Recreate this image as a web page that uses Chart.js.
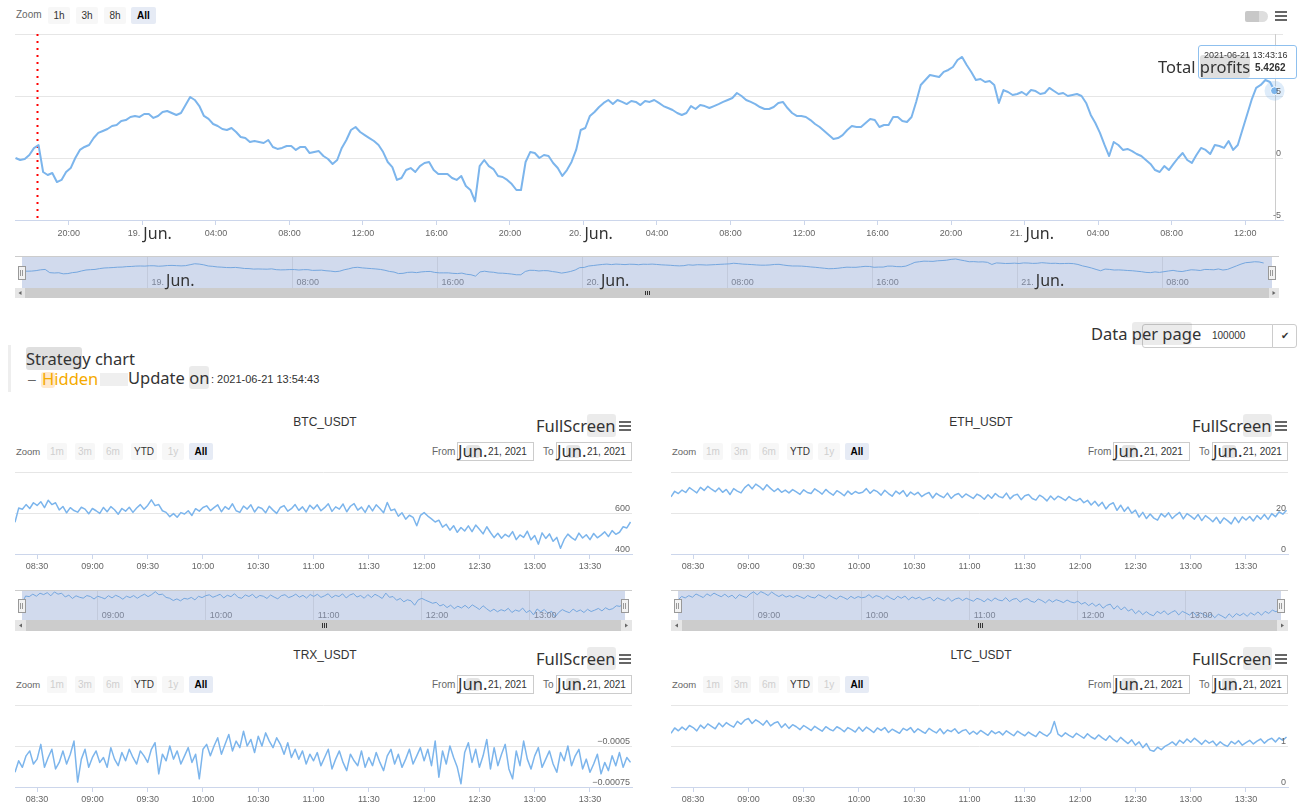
<!DOCTYPE html>
<html><head><meta charset="utf-8">
<script src="https://cdn.jsdelivr.net/npm/chart.js@4.4.1/dist/chart.umd.min.js"></script>
<style>
html,body{margin:0;padding:0;background:#fff}
body{width:1300px;height:806px;position:relative;overflow:hidden;font-family:"Liberation Sans",Arial,sans-serif;color:#333}
.a{position:absolute;white-space:nowrap}
canvas{position:absolute;display:block}
.btn{position:absolute;height:17px;line-height:17px;font-size:10px;text-align:center;background:#f7f7f7;color:#333;border-radius:2px}
.dis{color:#cfcfcf}
.sel{background:#e6ebf5;font-weight:bold;color:#000}
.big{font-family:"Noto Sans",sans-serif;color:#333;font-size:16.5px;line-height:20px}
.hl{background:rgba(110,110,110,0.22);border-radius:3px}
.hl2{background:rgba(110,110,110,0.14);border-radius:3px}
.lbl{font-size:10px;color:#666}
.box{position:absolute;border:1px solid #ccc;background:#fff;box-sizing:border-box}
.burg{position:absolute;width:12px;height:2px;background:#666}
</style></head><body>
<canvas id="cMain" width="1300" height="220" style="left:0;top:30px;width:1300px;height:220px"></canvas>
<canvas id="cNav" width="1300" height="52" style="left:0;top:250px;width:1300px;height:52px"></canvas>
<canvas id="c0" width="640" height="108" style="left:0;top:466px;width:640px;height:108px"></canvas>
<canvas id="c1" width="640" height="108" style="left:656px;top:466px;width:640px;height:108px"></canvas>
<canvas id="c2" width="640" height="108" style="left:0;top:699px;width:640px;height:108px"></canvas>
<canvas id="c3" width="640" height="108" style="left:656px;top:699px;width:640px;height:108px"></canvas>
<canvas id="n0" width="640" height="48" style="left:0;top:586px;width:640px;height:48px"></canvas>
<canvas id="n1" width="640" height="48" style="left:656px;top:586px;width:640px;height:48px"></canvas>

<!-- top toolbar -->
<div class="a lbl" style="left:16px;top:9px">Zoom</div>
<div class="btn" style="left:48px;top:7px;width:22px">1h</div>
<div class="btn" style="left:76px;top:7px;width:22px">3h</div>
<div class="btn" style="left:104px;top:7px;width:22px">8h</div>
<div class="btn sel" style="left:131px;top:7px;width:25px">All</div>
<div class="a" style="left:1245px;top:11px;width:15px;height:11px;background:#c8c8c8;border-radius:2px 0 0 2px"></div>
<div class="a" style="left:1259px;top:11px;width:9px;height:11px;background:#dedede;border-radius:0 6px 6px 0"></div>
<div class="burg" style="left:1275px;top:11px"></div>
<div class="burg" style="left:1275px;top:15px"></div>
<div class="burg" style="left:1275px;top:19px"></div>

<!-- tooltip -->
<div class="a" style="left:1198px;top:45px;width:97px;height:32px;background:rgba(255,255,255,0.9);border:1px solid #8fc0ee;border-radius:3px"></div>
<div class="a" style="left:1204px;top:50px;font-size:9px;color:#333">2021-06-21 13:43:16</div>
<div class="a" style="left:1255px;top:62px;font-size:10px;font-weight:bold;color:#333">5.4262</div>
<div class="a big" style="left:1158px;top:57px">Total <span class="hl">profits</span></div>

<!-- middle -->
<div class="box" style="left:1142px;top:324px;width:131px;height:24px;border-radius:3px 0 0 3px"></div>
<div class="a" style="left:1212px;top:330px;font-size:10px;color:#333">100000</div>
<div class="box" style="left:1272px;top:324px;width:25px;height:24px;border-radius:0 3px 3px 0;font-size:10px;text-align:center;line-height:22px">✔</div>
<div class="a big" style="left:1091px;top:324px">Data <span class="hl2">per pag</span>e</div>
<div class="a" style="left:8px;top:345px;width:3px;height:47px;background:#eee"></div>
<div class="a big" style="left:26px;top:349px"><span class="hl">Strateg</span>y chart</div>
<div class="a" style="left:28px;top:371px;font-size:14px;color:#666">–</div>
<div class="a" style="left:41px;top:372px;width:14px;height:16px;background:rgba(255,190,110,0.35);border-radius:3px"></div>
<div class="a big" style="left:42px;top:369px;color:#f5aa00">Hidden</div>
<div class="a" style="left:100px;top:373px;width:28px;height:13px;background:#efefef"></div>
<div class="a big" style="left:128px;top:368px">Update <span class="hl2">on</span></div>
<div class="a" style="left:211px;top:373px;font-size:11px;color:#333">: 2021-06-21 13:54:43</div>

<script>
// ---------------- DATA ----------------
const SERIES_COLOR = '#7cb5ec';
// Total profits, one reading every 15 minutes starting 2021-06-18 17:06
const PROFIT_START_H = 17.1;   // hours since 2021-06-18 00:00
const PROFIT_STEP_H = 0.25;
const profitValues = [
 0.00,-0.16,-0.08,0.24,0.80,1.05,-1.13,-1.37,-1.21,-1.94,-1.77,-1.13,-0.81,0.00,0.65,0.89,1.05,1.61,2.02,2.18,
 2.34,2.58,2.66,2.98,3.06,3.31,3.39,3.31,3.55,3.55,3.23,3.39,3.71,3.79,3.63,3.47,3.63,4.27,4.92,4.68,
 4.19,3.39,3.15,2.74,2.58,2.34,2.26,2.42,2.10,1.69,1.61,1.29,1.37,1.29,1.21,1.45,0.89,0.73,0.81,0.97,
 0.97,0.65,0.89,0.89,0.40,0.48,0.56,0.16,-0.08,-0.48,-0.16,0.81,1.45,2.26,2.50,2.10,1.85,1.61,1.37,1.05,
 0.48,-0.32,-0.73,-1.77,-1.61,-0.97,-0.81,-1.13,-0.65,-0.40,-0.32,-0.97,-1.29,-1.29,-1.29,-1.61,-1.77,-1.45,-2.26,-2.58,
 -3.50,-0.65,-0.16,-0.65,-0.89,-1.45,-1.53,-1.77,-2.10,-2.58,-2.58,-0.32,0.48,0.40,0.00,0.24,0.16,-0.40,-0.81,-1.45,
 -0.97,-0.32,0.65,2.26,2.42,3.39,3.71,4.11,4.44,4.68,4.35,4.68,4.52,4.35,4.60,4.52,4.27,4.60,4.52,4.68,
 4.44,4.19,4.03,3.87,3.63,3.47,3.63,4.19,3.95,4.27,4.19,4.03,4.19,4.35,4.52,4.68,4.84,5.24,5.00,4.68,
 4.52,4.35,4.11,3.95,3.95,4.11,4.44,4.52,4.03,3.63,3.39,3.39,3.31,3.06,2.74,2.50,2.18,1.85,1.53,1.61,
 1.85,2.26,2.58,2.50,2.50,2.82,3.15,3.06,2.50,2.66,2.66,3.31,3.31,2.98,2.90,3.31,4.52,5.89,6.29,6.69,
 6.61,6.53,6.94,7.10,7.34,7.90,8.15,7.50,6.94,6.29,6.37,6.13,6.21,5.89,4.44,5.48,5.32,5.08,5.16,5.32,
 5.08,5.48,5.40,5.16,5.24,5.65,5.40,5.16,5.24,5.00,5.08,5.16,5.00,4.44,3.47,2.82,2.02,1.05,0.16,1.29,
 1.05,0.65,0.73,0.56,0.32,0.16,-0.16,-0.48,-0.97,-1.13,-0.65,-0.97,-0.48,0.00,0.40,-0.16,-0.40,0.24,0.81,0.65,
 0.32,1.05,0.97,0.81,1.37,0.65,1.05,2.26,3.47,4.68,5.65,5.89,6.29,6.13,5.4262
];
const mainXMin = 17.07, mainXMax = 86.06;
const mainXTicks = [20,24,28,32,36,40,44,48,52,56,60,64,68,72,76,80,84];
const mainXLabels = ["20:00","19. Jun.","04:00","08:00","12:00","16:00","20:00","20. Jun.","04:00","08:00","12:00","16:00","20:00","21. Jun.","04:00","08:00","12:00"];
const mainYTicks = [-5,0,5,10];
const mainYLabels = ["-5","0","5",""];
const startMarkerHour = 18.27;
const navXTicks = [24,32,40,48,56,64,72,80];
const navXLabels = ["19. Jun.","08:00","16:00","20. Jun.","08:00","16:00","21. Jun.","08:00"];

// Pair charts, one reading every 2 minutes starting 08:18 (minutes after 08:00)
const PAIR_START_MIN = 18, PAIR_STEP_MIN = 2;
const pairNames = ["BTC_USDT","ETH_USDT","TRX_USDT","LTC_USDT"];
const btcValues = [
 555,624,618,641,
 622,650,637,655,626,
 662,641,650,615,632,
 601,626,612,604,628,619,596,622,
 611,598,627,606,631,616,594,622,609,628,
 603,624,641,618,637,664,
 636,641,611,603,582,597,
 579,602,595,611,588,621,609,627,
 635,612,626,640,606,631,618,645,611,603,634,619,640,605,629,
 622,601,633,614,598,627,636,609,621,641,613,630,605,638,620,
 640,611,626,645,608,630,619,644,606,633,646,614,629,603,637,
 610,640,622,601,651,612,619,
 584,601,570,589,579,538,588,
 602,585,571,556,565,531,
 545,516,538,506,529,512,537,
 509,541,521,498,533,505,480,
 501,477,496,484,509,470,493,481,511,469,
 490,448,503,476,498,462,481,428,
 471,497,480,468,502,478,494,470,
 500,479,492,508,485,514,496,
 506,533,527,556
];
const ethValues = [
 27.9,30.6,29.5,31.2,
 30.0,32.4,31.1,29.8,32.5,
 31.0,33.0,31.6,30.4,32.2,
 30.1,31.5,29.0,31.9,30.7,29.8,32.4,33.9,
 31.8,34.1,32.9,31.3,33.8,32.0,30.5,31.9,30.1,31.2,
 29.8,31.4,30.3,29.1,31.3,30.0,
 29.5,31.8,30.6,29.2,31.5,29.9,
 28.7,30.9,29.8,28.4,30.7,29.1,30.5,29.6,
 30.1,31.9,29.6,31.2,30.4,28.7,31.1,29.5,28.2,30.7,29.3,30.9,28.1,30.2,28.9,
 30.1,28.0,29.2,30.0,27.3,29.6,28.4,27.5,29.7,27.1,28.8,29.5,27.6,29.3,28.2,
 27.1,29.2,28.3,26.7,28.9,27.2,29.5,28.0,27.4,29.7,26.9,28.6,29.1,26.5,28.4,
 29.0,27.1,26.3,28.7,27.6,25.9,28.3,
 26.5,28.2,27.3,26.1,28.0,26.6,25.9,
 27.1,25.0,26.2,23.9,25.7,23.4,
 25.2,22.0,24.1,25.0,21.3,23.8,20.8,
 22.9,19.9,21.4,18.0,20.3,17.3,19.5,
 17.5,16.5,19.7,18.1,20.1,17.3,19.0,20.3,17.1,19.7,
 18.5,17.0,19.3,16.3,18.7,17.4,15.7,17.9,
 15.0,17.6,16.3,14.7,17.9,15.3,18.1,16.6,
 18.3,16.1,18.7,17.0,19.3,16.9,19.7,
 18.2,20.6,19.4,21.3
];
const trxValues = [
 -0.00066,-0.00059,-0.00063,-0.00056,
 -0.00053,-0.00061,-0.00058,-0.00049,-0.00063,
 -0.00057,-0.00052,-0.00064,-0.0006,-0.00053,
 -0.00061,-0.00055,-0.00047,-0.00072,-0.00058,-0.00052,-0.00063,-0.00057,
 -0.00053,-0.0006,-0.00057,-0.00063,-0.00051,-0.00058,-0.00062,-0.00054,-0.00059,-0.00052,
 -0.00057,-0.00061,-0.00053,-0.00056,-0.0006,-0.00052,
 -0.00048,-0.00067,-0.00055,-0.00059,-0.0005,-0.00058,
 -0.00053,-0.00061,-0.00056,-0.00051,-0.0006,-0.00055,-0.0007,-0.00052,
 -0.00049,-0.00056,-0.0005,-0.00045,-0.00055,-0.00049,-0.00043,-0.00053,-0.00047,-0.00051,-0.00041,-0.0005,-0.00046,-0.00054,-0.00044,
 -0.0005,-0.00042,-0.00047,-0.00051,-0.00045,-0.00049,-0.00055,-0.00048,-0.00057,-0.00052,-0.00058,-0.00053,-0.00061,-0.00055,-0.00059,
 -0.00054,-0.00062,-0.00057,-0.00052,-0.00064,-0.00058,-0.00053,-0.0006,-0.00065,-0.00055,-0.00059,-0.00062,-0.00053,-0.00063,-0.00057,
 -0.00062,-0.00054,-0.0006,-0.00065,-0.00056,-0.00052,-0.00061,
 -0.00055,-0.00063,-0.00058,-0.00052,-0.00061,-0.00056,-0.00051,
 -0.00059,-0.00052,-0.00062,-0.00047,-0.00069,-0.00053,
 -0.00061,-0.0005,-0.00057,-0.00063,-0.00073,-0.00054,-0.00048,
 -0.0006,-0.00052,-0.00063,-0.00056,-0.00046,-0.00064,-0.00051,
 -0.00062,-0.00055,-0.00049,-0.00064,-0.0007,-0.00053,-0.00062,-0.00047,-0.00058,-0.00064,
 -0.00056,-0.00051,-0.00063,-0.00058,-0.00053,-0.00061,-0.00066,-0.00054,
 -0.00059,-0.0005,-0.00062,-0.00056,-0.00052,-0.00064,-0.00058,-0.00066,
 -0.00061,-0.00055,-0.00067,-0.0006,-0.00065,-0.00056,-0.00062,
 -0.00054,-0.00063,-0.00057,-0.0006
];
const ltcValues = [
 1.31,1.44,1.37,1.46,
 1.39,1.50,1.45,1.37,1.51,
 1.43,1.54,1.48,1.42,1.56,
 1.47,1.57,1.51,1.46,1.60,1.53,1.63,1.67,
 1.55,1.64,1.58,1.51,1.62,1.49,1.56,1.59,1.45,1.54,
 1.43,1.52,1.47,1.40,1.50,1.44,
 1.38,1.48,1.42,1.36,1.47,1.41,
 1.37,1.47,1.42,1.35,1.45,1.40,1.34,1.46,
 1.36,1.46,1.40,1.33,1.44,1.38,1.45,1.33,1.41,1.36,1.31,1.43,1.38,1.45,1.33,
 1.42,1.36,1.31,1.43,1.37,1.32,1.42,1.30,1.39,1.35,1.42,1.31,1.37,1.40,1.29,
 1.36,1.29,1.38,1.32,1.26,1.37,1.30,1.35,1.27,1.37,1.31,1.25,1.36,1.30,1.25,
 1.34,1.28,1.23,1.35,1.29,1.24,1.33,
 1.60,1.29,1.23,1.32,1.26,1.21,1.31,
 1.25,1.19,1.30,1.22,1.17,1.27,
 1.20,1.14,1.25,1.16,1.10,1.21,1.13,
 1.06,1.15,1.02,1.10,0.96,1.06,0.90,
 0.87,0.97,0.91,0.99,1.04,1.10,1.02,1.14,1.07,1.17,
 1.09,1.19,1.12,1.04,1.14,1.07,1.12,1.01,
 1.10,1.03,0.99,1.11,1.05,1.13,1.02,1.08,
 1.14,1.05,1.12,1.17,1.07,1.15,1.19,
 1.10,1.20,1.14,1.22
];
const pairXMin = 18, pairXMax = 352.8;
const pairXTicks = [30,60,90,120,150,180,210,240,270,300,330];
const pairXLabels = ["08:30","09:00","09:30","10:00","10:30","11:00","11:30","12:00","12:30","13:00","13:30"];
const pairYTicks = [[400,600,800],[0,20,40],[-0.00075,-0.0005,-0.00025],[0,1,2]];
const pairYLabels = [["400","600",""],["0","20",""],["\u22120.00075","\u22120.0005",""],["0","1",""]];
const pairNavXTicks = [60,120,180,240,300];
const pairNavXLabels = ["09:00","10:00","11:00","12:00","13:00"];
const pairNavRange = [[400,680],[13.4,35.3]];
const profitNavRange = [-11.6,10.2];

// ---------------- PLUGIN ----------------
const deco = {
  id:'deco',
  beforeDraw(chart,a,o){
    if(o && o.bg){const ca=chart.chartArea,c=chart.ctx;c.save();c.fillStyle=o.bg;c.fillRect(ca.left,ca.top,ca.width,ca.height);c.restore();}
  },
  beforeDatasetsDraw(chart,a,o){
    if(!o||!o.vlines) return;
    const c=chart.ctx, ca=chart.chartArea, sx=chart.scales.x;
    o.vlines.forEach(v=>{const px=Math.round(sx.getPixelForValue(v.value))+0.5;c.save();c.strokeStyle=v.color;c.lineWidth=v.width;c.setLineDash(v.dash||[]);c.beginPath();c.moveTo(px,ca.top);c.lineTo(px,ca.bottom-(v.cut||0));c.stroke();c.restore();});
  },
  afterDraw(chart,a,o){
    if(!o) return;
    const c=chart.ctx, ca=chart.chartArea, sx=chart.scales.x, sy=chart.scales.y;
    c.save();
    if(o.nav){
      const n=o.nav;
      c.strokeStyle='#cccccc';c.lineWidth=1;c.beginPath();c.moveTo(n.outL,Math.round(ca.top)+0.5);c.lineTo(n.outR,Math.round(ca.top)+0.5);c.stroke();
      const y0=ca.bottom, h=n.sbH;
      c.fillStyle='#cccccc';c.fillRect(n.outL,y0,n.outR-n.outL,h);
      c.fillStyle='#e6e6e6';c.fillRect(n.outL,y0,h,h);c.fillRect(n.outR-h,y0,h,h);
      c.fillStyle='#666';
      c.beginPath();c.moveTo(n.outL+h/2+1.5,y0+h/2-2);c.lineTo(n.outL+h/2-1.5,y0+h/2);c.lineTo(n.outL+h/2+1.5,y0+h/2+2);c.fill();
      c.beginPath();c.moveTo(n.outR-h/2-1.5,y0+h/2-2);c.lineTo(n.outR-h/2+1.5,y0+h/2);c.lineTo(n.outR-h/2-1.5,y0+h/2+2);c.fill();
      const cx=Math.round((n.outL+n.outR)/2);
      c.strokeStyle='#333';c.beginPath();[-2,0,2].forEach(d=>{c.moveTo(cx+d+0.5,y0+3);c.lineTo(cx+d+0.5,y0+h-3);});c.stroke();
      [ca.left,ca.right].forEach(hx=>{const hy=Math.round(ca.top+(ca.height-13)/2);const lx=Math.round(hx-4);c.fillStyle='#f2f2f2';c.fillRect(lx,hy,7,13);c.strokeStyle='#999';c.strokeRect(lx+0.5,hy+0.5,7,13);c.beginPath();c.moveTo(lx+2.5,hy+4);c.lineTo(lx+2.5,hy+10);c.moveTo(lx+4.5,hy+4);c.lineTo(lx+4.5,hy+10);c.stroke();});
    }
    if(o.marker){
      const d=chart.data.datasets[0].data, p=d[d.length-1];
      const px=sx.getPixelForValue(p.x), py=sy.getPixelForValue(p.y);
      c.fillStyle='rgba(124,181,236,0.25)';c.beginPath();c.arc(px,py,10,0,Math.PI*2);c.fill();
      c.fillStyle=SERIES_COLOR;c.strokeStyle='#fff';c.lineWidth=1;c.beginPath();c.arc(px,py,4,0,Math.PI*2);c.fill();c.stroke();
    }
    if(o.xl){
      const X=o.xl; c.textBaseline='alphabetic';
      X.values.forEach((v,i)=>{
        const t=X.labels[i], px=sx.getPixelForValue(v), m=t.match(/^(\d+\.) (.+)$/);
        c.font=X.font; c.fillStyle=X.color;
        if(m){
          if(X.mode==='left'){c.textAlign='left';const x0=px+X.dx;c.fillText(m[1],x0,X.y);const w=c.measureText(m[1]).width;c.font=X.bigFont;c.fillStyle='#333';c.fillText(m[2],x0+w+2,X.y+1);}
          else {c.textAlign='right';c.fillText(m[1],px-2,X.y);c.font=X.bigFont;c.fillStyle='#333';c.textAlign='left';c.fillText(m[2],px+1,X.y+3);}
        } else {
          c.textAlign=X.mode==='left'?'left':'center';c.fillText(t,px+(X.mode==='left'?X.dx:0),X.y);
        }
      });
    }
    if(o.yl){
      const Y=o.yl; c.font=Y.font; c.fillStyle=Y.color; c.textAlign='right'; c.textBaseline='alphabetic';
      Y.values.forEach((v,i)=>{const t=Y.labels[i]; if(!t) return; c.fillText(t, ca.right-2, sy.getPixelForValue(v)-2);});
    }
    c.restore();
  }
};
Chart.register(deco);

function mk(id, pts, cfg){
  return new Chart(document.getElementById(id), {
    type:'line',
    data:{datasets:[{data:pts,borderColor:cfg.color||SERIES_COLOR,borderWidth:cfg.lw,pointRadius:0,pointHoverRadius:0,tension:0,fill:false,borderJoinStyle:'round'}]},
    options:{
      responsive:false,maintainAspectRatio:false,animation:false,devicePixelRatio:1,events:[],parsing:false,normalized:true,
      layout:{padding:cfg.pad},
      plugins:{legend:{display:false},tooltip:{enabled:false},deco:cfg.deco},
      scales:{
        x:{type:'linear',min:cfg.xmin,max:cfg.xmax,display:true,
           afterBuildTicks:s=>{s.ticks=cfg.xticks.map(v=>({value:v}));},
           ticks:{display:false},grid:cfg.xgrid,border:cfg.xborder},
        y:{type:'linear',position:'right',min:cfg.ymin,max:cfg.ymax,display:true,
           afterBuildTicks:s=>{s.ticks=(cfg.yticks||[]).map(v=>({value:v}));},
           ticks:{display:false},
           grid:{display:!!cfg.yticks,color:'#e6e6e6',drawTicks:false,lineWidth:1},
           border:{display:false}}
      }
    }
  });
}
const axisGrid={display:true,drawOnChartArea:false,drawTicks:true,tickLength:5,tickColor:'#ccd6eb',color:'#ccd6eb'};
const axisBorder={display:true,color:'#ccd6eb',width:1};
const navGrid={display:true,drawOnChartArea:true,drawTicks:false,color:'#c2cadc'};
const noBorder={display:false};
const LBL_FONT='9px "Liberation Sans", Arial, sans-serif';
const BIG_FONT='16px "Noto Sans", sans-serif';
const NAV_BG='#d1daed', NAV_LINE='#75a7df';

const profitPts = profitValues.map((v,i)=>({x:PROFIT_START_H+i*PROFIT_STEP_H,y:v}));
const lastHour = profitPts[profitPts.length-1].x;
mk('cMain', profitPts, {lw:2,pad:{left:15,right:17,top:4,bottom:25},xmin:mainXMin,xmax:mainXMax,xticks:mainXTicks,
  xgrid:axisGrid,xborder:axisBorder,ymin:-5,ymax:10,yticks:mainYTicks,
  deco:{vlines:[{value:lastHour,color:'#cccccc',width:1},{value:startMarkerHour,color:'#ff0000',width:2,dash:[2,5],cut:2}],
        marker:true,
        xl:{values:mainXTicks,labels:mainXLabels,y:205.5,font:LBL_FONT,bigFont:BIG_FONT,color:'#666',mode:'center'},
        yl:{values:mainYTicks,labels:mainYLabels,font:LBL_FONT,color:'#666'}}});
mk('cNav', profitPts, {lw:1,color:NAV_LINE,pad:{left:22,right:28,top:6,bottom:14},xmin:mainXMin,xmax:mainXMax,xticks:navXTicks,
  xgrid:navGrid,xborder:noBorder,ymin:profitNavRange[0],ymax:profitNavRange[1],
  deco:{bg:NAV_BG,nav:{outL:15,outR:1279,sbH:10},
        xl:{values:navXTicks,labels:navXLabels,y:34.5,font:LBL_FONT,bigFont:BIG_FONT,color:'#7d8598',mode:'left',dx:4}}});

const pairSeries=[btcValues,ethValues,trxValues,ltcValues];
pairSeries.forEach((vals,k)=>{
  const pts=vals.map((v,i)=>({x:PAIR_START_MIN+i*PAIR_STEP_MIN,y:v}));
  const yt=pairYTicks[k];
  mk('c'+k, pts, {lw:1.5,pad:{left:15,right:8,top:6,bottom:15},xmin:pairXMin,xmax:pairXMax,xticks:pairXTicks,
    xgrid:axisGrid,xborder:axisBorder,ymin:yt[0],ymax:yt[2],yticks:yt,
    deco:{xl:{values:pairXTicks,labels:pairXLabels,y:102.5,font:LBL_FONT,bigFont:BIG_FONT,color:'#666',mode:'center'},
          yl:{values:yt,labels:pairYLabels[k],font:LBL_FONT,color:'#666'}}});
  if(k<2){
    mk('n'+k, pts, {lw:1,color:NAV_LINE,pad:{left:22,right:15,top:4,bottom:14},xmin:pairXMin,xmax:pairXMax,xticks:pairNavXTicks,
      xgrid:navGrid,xborder:noBorder,ymin:pairNavRange[k][0],ymax:pairNavRange[k][1],
      deco:{bg:NAV_BG,nav:{outL:15,outR:632,sbH:11},
            xl:{values:pairNavXTicks,labels:pairNavXLabels,y:31.5,font:LBL_FONT,bigFont:BIG_FONT,color:'#7d8598',mode:'left',dx:4}}});
  }
});

const zoomBtns=[["1m",47,20,"dis"],["3m",75,20,"dis"],["6m",103,20,"dis"],["YTD",131,26,""],["1y",162,22,"dis"],["All",189,24,"sel"]];
function add(html){document.body.insertAdjacentHTML('beforeend',html);}
pairNames.forEach((name,k)=>{
  const ox=656*(k%2), oy=233*Math.floor(k/2);
  add(`<div class="a" style="left:${ox+225}px;top:${oy+415}px;width:200px;text-align:center;font-size:12px;color:#333">${name}</div>`);
  add(`<div class="a big" style="left:${ox+536}px;top:${oy+416}px">FullScr<span class="hl2">een</span></div>`);
  [421,425,429].forEach(t=>add(`<div class="burg" style="left:${ox+619}px;top:${oy+t}px"></div>`));
  add(`<div class="a" style="left:${ox+16}px;top:${oy+446}px;font-size:9.5px;color:#666">Zoom</div>`);
  zoomBtns.forEach(b=>add(`<div class="btn ${b[3]}" style="left:${ox+b[1]}px;top:${oy+443}px;width:${b[2]}px">${b[0]}</div>`));
  add(`<div class="a" style="left:${ox+432}px;top:${oy+446}px;font-size:10px;color:#666">From</div>`);
  add(`<div class="box" style="left:${ox+457}px;top:${oy+442}px;width:77px;height:19px"></div>`);
  add(`<div class="a" style="left:${ox+466}px;top:${oy+445}px;width:14px;height:13px;background:rgba(120,120,120,0.2);border-radius:3px"></div>`);
  add(`<div class="a big" style="left:${ox+458}px;top:${oy+441}px">Jun.</div>`);
  add(`<div class="a" style="left:${ox+488}px;top:${oy+446}px;font-size:10px;color:#333">21, 2021</div>`);
  add(`<div class="a" style="left:${ox+543}px;top:${oy+446}px;font-size:10px;color:#666">To</div>`);
  add(`<div class="box" style="left:${ox+556}px;top:${oy+442}px;width:76px;height:19px"></div>`);
  add(`<div class="a" style="left:${ox+566}px;top:${oy+445}px;width:14px;height:13px;background:rgba(120,120,120,0.2);border-radius:3px"></div>`);
  add(`<div class="a big" style="left:${ox+557}px;top:${oy+441}px">Jun.</div>`);
  add(`<div class="a" style="left:${ox+587}px;top:${oy+446}px;font-size:10px;color:#333">21, 2021</div>`);
});
</script>
</body></html>
